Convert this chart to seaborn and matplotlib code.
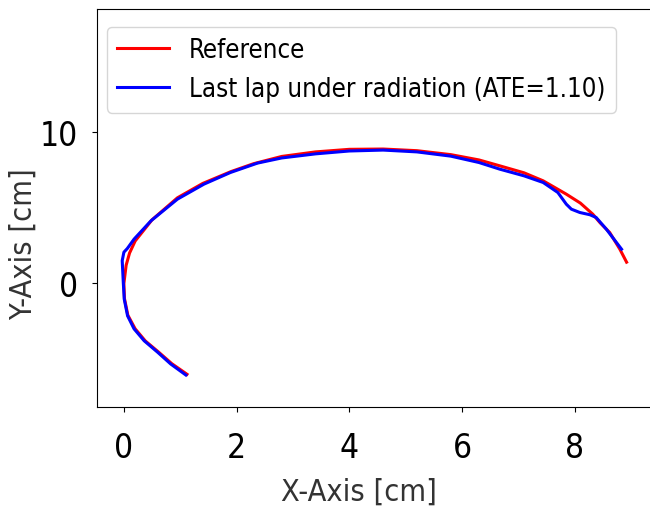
import seaborn as sns
import matplotlib.pyplot as plt
import pandas as pd

# reference trajectory (cm), right end -> over the top -> down the left side
ref_x = [8.92, 8.80, 8.62, 8.45, 8.32, 8.10, 7.85, 7.44, 7.10, 6.67, 6.30, 5.80, 5.20, 4.60,
         4.00, 3.40, 2.80, 2.30, 1.90, 1.40, 0.95, 0.50, 0.20, 0.10, 0.04, 0.00, 0.01, 0.07,
         0.20, 0.38, 0.62, 0.85, 1.12]
ref_y = [1.40, 2.26, 3.36, 4.00, 4.57, 5.30, 5.89, 6.77, 7.30, 7.76, 8.15, 8.50, 8.76, 8.87,
         8.85, 8.68, 8.38, 7.90, 7.38, 6.60, 5.65, 4.20, 2.80, 2.00, 1.20, 0.00, -1.00, -2.10,
         -3.00, -3.80, -4.55, -5.30, -6.00]

# last lap under radiation
lap_x = [8.83, 8.74, 8.56, 8.38, 8.27, 8.09, 7.94, 7.85, 7.70, 7.44, 7.10, 6.67, 6.30, 5.80,
         5.20, 4.60, 4.00, 3.40, 2.80, 2.37, 1.89, 1.42, 0.95, 0.48, 0.18, 0.06, 0.00, -0.03,
         -0.01, 0.006, 0.065, 0.18, 0.36, 0.60, 0.83, 1.10]
lap_y = [2.26, 2.70, 3.58, 4.35, 4.53, 4.68, 4.90, 5.23, 6.00, 6.66, 7.10, 7.54, 7.98, 8.40,
         8.68, 8.80, 8.74, 8.55, 8.28, 7.94, 7.32, 6.55, 5.56, 4.13, 2.92, 2.30, 2.06, 1.50,
         0.00, -1.04, -2.14, -3.00, -3.79, -4.55, -5.32, -6.05]

ref = pd.DataFrame({'x': ref_x, 'y': ref_y})
lap = pd.DataFrame({'x': lap_x, 'y': lap_y})

plt.rcParams['font.family'] = ['DejaVu Sans']
plt.rcParams['font.stretch'] = 'condensed'

fig = plt.figure(figsize=(6.5, 5.1), dpi=100)
ax = fig.add_axes([0.149, 0.2, 0.854, 0.78])

sns.lineplot(data=ref, x='x', y='y', sort=False, estimator=None, color='red',
             linewidth=2.2, label='Reference', ax=ax)
sns.lineplot(data=lap, x='x', y='y', sort=False, estimator=None, color='blue',
             linewidth=2.2, label='Last lap under radiation (ATE=1.10)', ax=ax)

ax.set_xlim(-0.48, 9.37)
ax.set_ylim(-8.16, 18.1)
ax.set_xticks([0, 2, 4, 6, 8])
ax.set_yticks([0, 10])
ax.tick_params(labelsize=24)
ax.tick_params(axis='x', pad=14)
ax.tick_params(axis='y', pad=10)

ax.set_xlabel('X-Axis [cm]', fontsize=22, color='#333333')
ax.set_ylabel('Y-Axis [cm]', fontsize=22, color='#333333')
ax.xaxis.set_label_coords(0.472, -0.211)
ax.xaxis.label.set_verticalalignment('center')
ax.yaxis.set_label_coords(-0.133, 0.412)
ax.yaxis.label.set_verticalalignment('center')
ax.yaxis.label.set_horizontalalignment('center')

ax.legend(loc='upper left', bbox_to_anchor=(0.018, 0.955), borderaxespad=0,
          fontsize=18.5)

plt.savefig('out.png', dpi=100)
